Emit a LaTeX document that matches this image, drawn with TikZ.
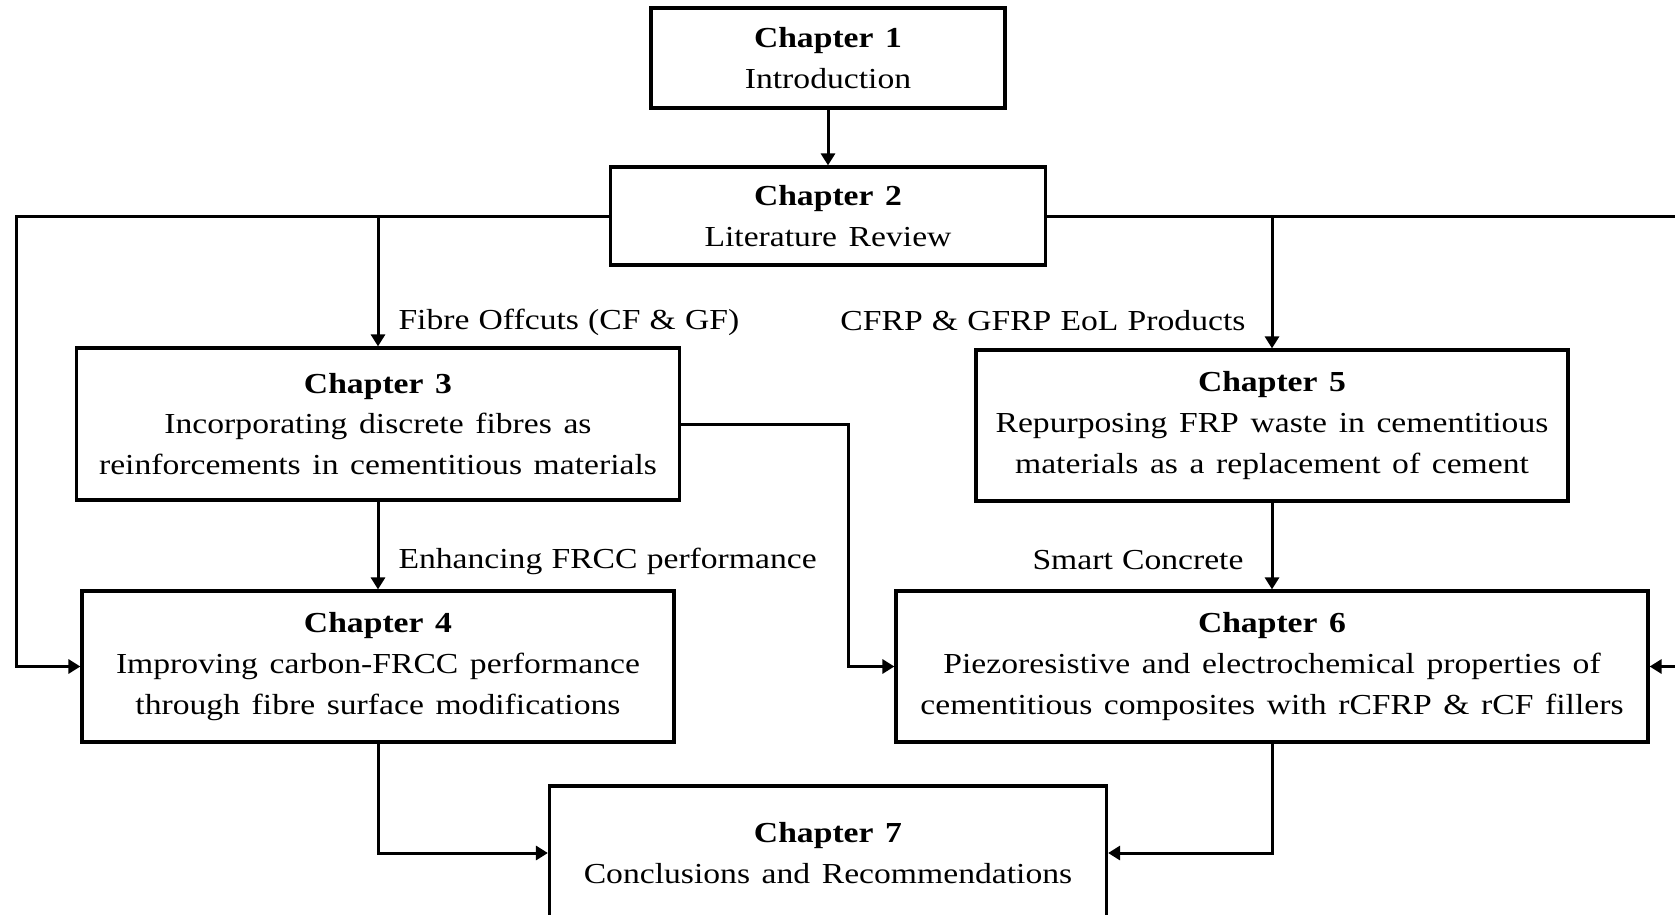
\documentclass[tikz,border=0pt]{standalone}
\usepackage{fontspec}
\setmainfont[FakeStretch=1.16]{Liberation Serif}
\usetikzlibrary{arrows.meta}
\newcommand{\chtext}{\fontsize{14.5}{20.3}\selectfont\spaceskip=5.8pt\relax}
\newcommand{\lbtext}{\fontsize{14.5}{20.3}\selectfont\spaceskip=4.6pt\relax}
\begin{document}
\begin{tikzpicture}[x=0.5pt, y=-0.5pt, line width=1.5pt,
  every node/.style={inner sep=0pt, font=\chtext},
  chbox/.style={draw, line width=1.6pt, align=center},
  lbnode/.style={font=\lbtext},
  arr/.style={-{Triangle[length=6pt, width=7pt]}}]
  \useasboundingbox (0,0) rectangle (1675,915);
  % chapters
  \node[chbox, minimum width=177pt, minimum height=50pt] (ch1) at (828,58) {\textbf{Chapter 1}\\Introduction};
  \node[chbox, minimum width=217.5pt, minimum height=49pt] (ch2) at (828,216) {\textbf{Chapter 2}\\Literature Review};
  \node[chbox, minimum width=301.5pt, minimum height=76pt] (ch3) at (378,424) {\textbf{Chapter 3}\\Incorporating discrete fibres as\\reinforcements in cementitious materials};
  \node[chbox, minimum width=296pt, minimum height=75.5pt] (ch4) at (378,666.5) {\textbf{Chapter 4}\\Improving carbon-FRCC performance\\through fibre surface modifications};
  \node[chbox, minimum width=296pt, minimum height=75.5pt] (ch5) at (1272,425.5) {\textbf{Chapter 5}\\Repurposing FRP waste in cementitious\\materials as a replacement of cement};
  \node[chbox, minimum width=376pt, minimum height=75.5pt] (ch6) at (1272,666.5) {\textbf{Chapter 6}\\Piezoresistive and electrochemical properties of\\cementitious composites with rCFRP \& rCF fillers};
  \node[chbox, minimum width=278.5pt, minimum height=67pt] (ch7) at (828,853) {\textbf{Chapter 7}\\Conclusions and Recommendations};
  % labels
  \node[lbnode, anchor=west] (lbfo) at (397,322) {Fibre Offcuts (CF \& GF)};
  \node[lbnode, anchor=east] (lbeol) at (1247,321) {CFRP \& GFRP EoL Products};
  \node[lbnode, anchor=west] (lbfrcc) at (397,561) {Enhancing FRCC performance};
  \node[lbnode, anchor=east] (lbsmart) at (1245,560) {Smart Concrete};
  % connectors
  \coordinate (lft) at (16,216);
  \coordinate (rgt) at (1685,216);
  \coordinate (rgtsix) at (1685,666.5);
  \draw[arr] (ch1.south) -- (ch2.north);
  \draw[arr] (ch2.west) -- (lft) |- (ch4.west);
  \draw (ch2.east) -- (rgt);
  \draw[arr] (ch3.north |- ch2.west) -- (ch3.north);
  \draw[arr] (ch5.north |- ch2.east) -- (ch5.north);
  \draw[arr] (ch3.south) -- (ch4.north);
  \draw[arr] (ch5.south) -- (ch6.north);
  \draw[arr] (ch3.east) -- ++(167,0) |- (ch6.west);
  \draw[arr] (rgtsix) -- (ch6.east);
  \draw[arr] (ch4.south) |- (ch7.west);
  \draw[arr] (ch6.south) |- (ch7.east);
\end{tikzpicture}
\end{document}
